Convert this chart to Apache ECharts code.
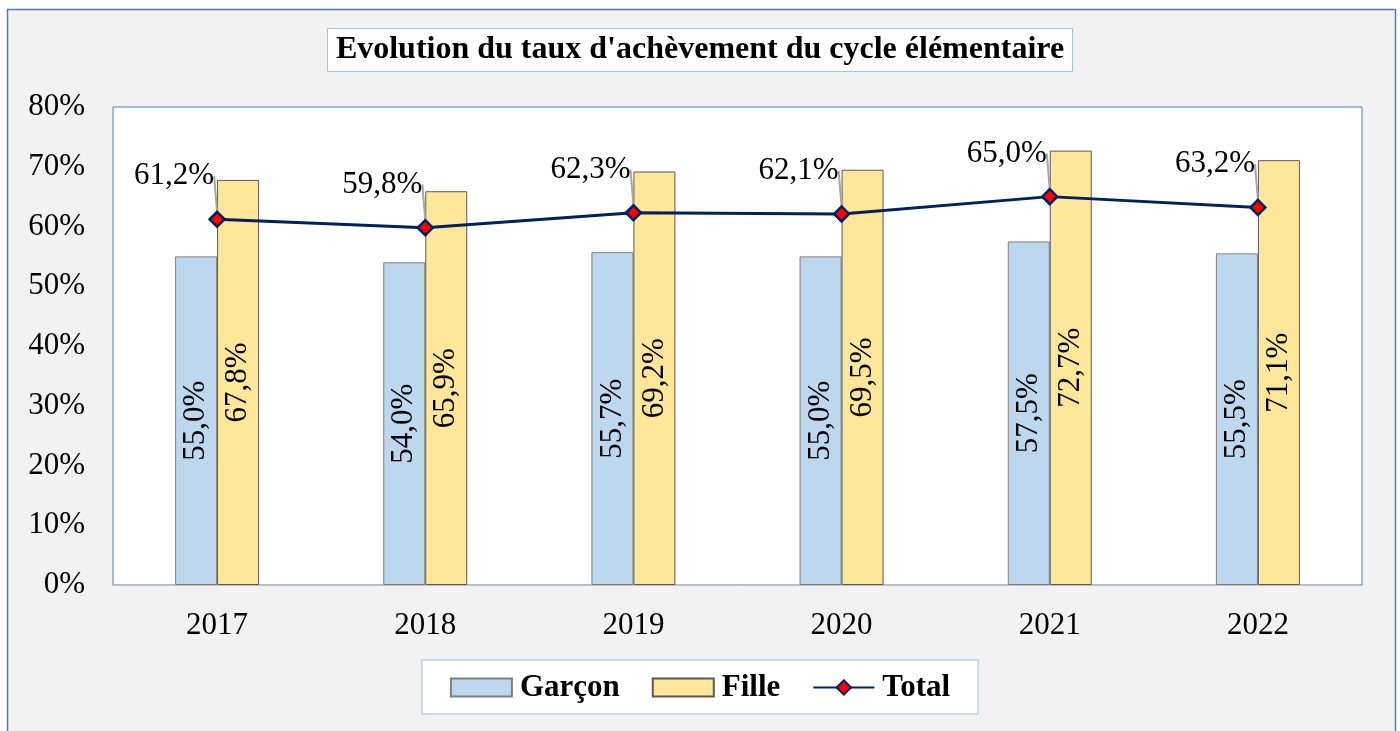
<!DOCTYPE html>
<html>
<head>
<meta charset="utf-8">
<script src="https://cdn.jsdelivr.net/npm/echarts@6/dist/echarts.min.js"></script>
<style>
html,body{margin:0;padding:0;background:#fff;}
#chart{width:1400px;height:731px;}
</style>
</head>
<body>
<div id="chart"></div>
<script>
// données
var annees = ['2017', '2018', '2019', '2020', '2021', '2022'];
var garcon = [55.0, 54.0, 55.7, 55.0, 57.5, 55.5];
var fille = [67.8, 65.9, 69.2, 69.5, 72.7, 71.1];
var total = [61.2, 59.8, 62.3, 62.1, 65.0, 63.2];

var police = 'Liberation Serif';

function pct(v){
    return v.toFixed(1).replace('.', ',') + '%';
}

var chart = echarts.init(document.getElementById('chart'));

chart.setOption({
    animation: false,
    graphic: [{
        type: 'rect',
        z: -10,
        shape: {x: 7.5, y: 9.5, width: 1388, height: 740},
        style: {fill: '#f2f2f2', stroke: '#4a7ebb', lineWidth: 1.5}
    }],
    title: {
        text: "Evolution du taux d'achèvement du cycle élémentaire",
        left: 'center',
        top: 28,
        padding: [6, 9, 6, 9],
        backgroundColor: '#fff',
        borderColor: '#9dc3e6',
        borderWidth: 1,
        textStyle: {fontFamily: police, fontWeight: 'bold', fontSize: 32, color: '#000'}
    },
    legend: {
        top: 660,
        left: 'center',
        padding: [12, 28, 11, 28],
        backgroundColor: '#fff',
        borderColor: '#9dc3e6',
        borderWidth: 1,
        itemWidth: 61,
        itemHeight: 18,
        itemGap: 32,
        textStyle: {fontFamily: police, fontWeight: 'bold', fontSize: 31, color: '#000', padding: [0, 0, 0, 3]},
        data: [{name: 'Garçon', icon: 'rect'}, {name: 'Fille', icon: 'rect'}, 'Total']
    },
    grid: {
        left: 113, right: 38, top: 107, bottom: 146,
        show: true,
        backgroundColor: '#fff',
        borderColor: '#4a7ebb',
        borderWidth: 1
    },
    xAxis: {
        type: 'category',
        data: annees,
        axisLine: {lineStyle: {color: '#bfbfbf'}},
        axisTick: {show: false},
        axisLabel: {fontFamily: police, fontSize: 31, color: '#000', margin: 25}
    },
    yAxis: {
        type: 'value',
        min: 0, max: 80, interval: 10,
        splitLine: {show: false},
        axisLine: {show: false},
        axisTick: {show: false},
        axisLabel: {fontFamily: police, fontSize: 31, color: '#000', margin: 28, formatter: '{value}%'}
    },
    series: [{
        name: 'Garçon',
        type: 'bar',
        data: garcon,
        barWidth: 42,
        barGap: '0%',
        itemStyle: {color: '#bdd7ee', borderColor: '#7f7f7f', borderWidth: 1},
        label: {
            show: true, position: 'inside', rotate: 90,
            fontFamily: police, fontSize: 31, color: '#000',
            formatter: function(p){ return pct(p.value); }
        }
    }, {
        name: 'Fille',
        type: 'bar',
        data: fille,
        barWidth: 42,
        itemStyle: {color: '#ffe699', borderColor: '#595959', borderWidth: 1},
        label: {
            show: true, position: 'inside', rotate: 90,
            fontFamily: police, fontSize: 31, color: '#000',
            formatter: function(p){ return pct(p.value); }
        }
    }, {
        name: 'Total',
        type: 'line',
        data: total,
        symbol: 'diamond',
        symbolSize: 15,
        lineStyle: {color: '#002060', width: 3},
        itemStyle: {color: '#ff0000', borderColor: '#002060', borderWidth: 2.5},
        label: {
            show: true, position: 'top', distance: 5,
            fontFamily: police, fontSize: 31, color: '#000',
            formatter: function(p){ return pct(p.value); }
        },
        labelLayout: {dx: -43, dy: -14},
        labelLine: {show: true, lineStyle: {color: '#a6a6a6', width: 2}}
    }]
});
</script>
</body>
</html>
